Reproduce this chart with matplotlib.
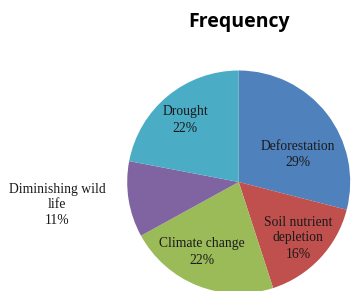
import matplotlib
matplotlib.use("Agg")
import matplotlib.pyplot as plt
import numpy as np

categories = ["Deforestation", "Soil nutrient\ndepletion", "Climate change",
              "Diminishing wild\nlife", "Drought"]
values = [29, 16, 22, 11, 22]
colors = ["#4F81BD", "#C0504D", "#9BBB59", "#8064A2", "#4BACC6"]
title = "Frequency"

W, H = 351, 291
fig = plt.figure(figsize=(W / 100, H / 100), dpi=100)
ax = fig.add_axes([0, 0, 1, 1])

cx, cy, R = 238.7, H - 182.0, 111.5
wedges, _ = ax.pie(values, colors=colors, startangle=90, counterclock=False,
                   center=(cx, cy), radius=R, labels=None,
                   wedgeprops=dict(linewidth=0))
ax.set_xlim(0, W)
ax.set_ylim(0, H)
ax.set_aspect("equal")
ax.axis("off")

# label offsets from pie center (in pixels, x right / y up)
offsets = [(59.5, 28), (59.5, -56), (-36.5, -70), (-181.5, -23), (-53.5, 62)]
for cat, v, (dx, dy) in zip(categories, values, offsets):
    ax.text(cx + dx, cy + dy, f"{cat}\n{v}%", ha="center", va="center",
            fontsize=9.8, family="Liberation Serif", color="#1a1a1a",
            linespacing=1.3)

fig.text(cx / W, 1 - 22 / H, title, ha="center", va="center",
         fontsize=14, fontweight="bold", family="Open Sans", color="black")

fig.savefig("out.png", dpi=100)
